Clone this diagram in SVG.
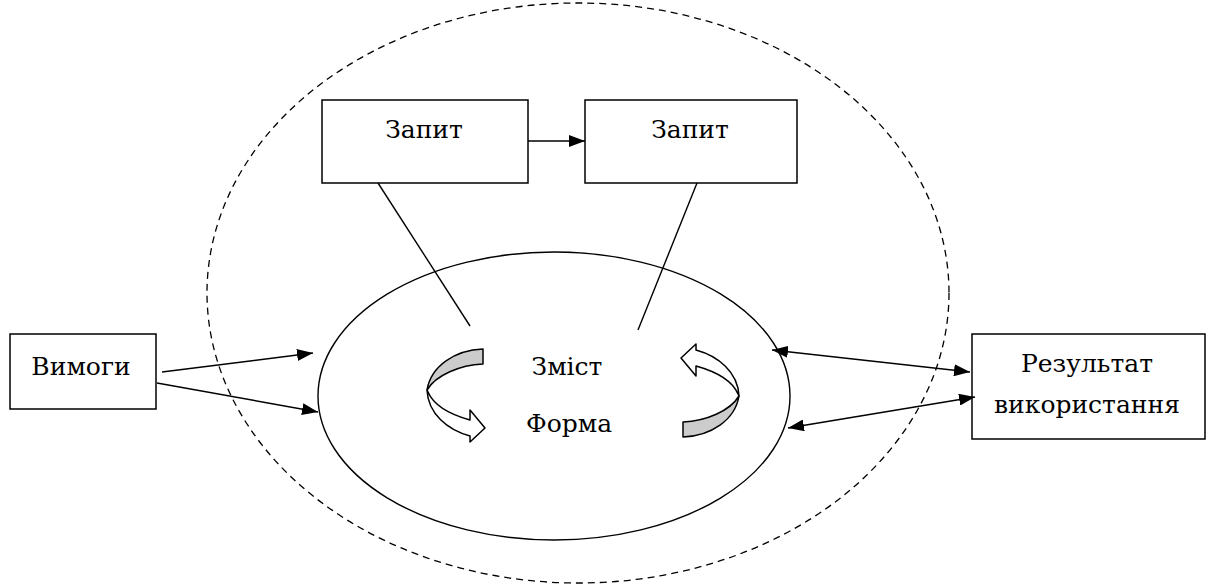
<svg xmlns="http://www.w3.org/2000/svg" xmlns:xlink="http://www.w3.org/1999/xlink" width="1209" height="587" viewBox="0 0 1209 587">
<style>
.box{fill:#fff;stroke:#000;stroke-width:1.5}
.ln{fill:none;stroke:#000;stroke-width:1.4}
text{font-family:'DejaVu Serif',serif;font-size:25px;fill:#000;text-anchor:middle}
.band{fill:#cccccc;stroke:#000;stroke-width:1.5;stroke-linejoin:round}
.wh{fill:#fff;stroke:#000;stroke-width:1.5;stroke-linejoin:round}
</style>
<defs>
<marker id="ah" viewBox="0 0 16 12" refX="16" refY="6" markerWidth="16" markerHeight="12" markerUnits="userSpaceOnUse" orient="auto-start-reverse">
<path d="M0,0 L16,6 L0,12 Z" fill="#000"/>
</marker>
<g id="curl">
<path class="wh" d="M427,390 C428,414 448,430 470,436 L470,442 L485,428 L470,410 L470,420 C452,415 434,406 428,392 Z"/>
<path class="band" d="M483,349 C455,350 431,366 427,390 C436,375 460,365 483,364 Z"/>
</g>
</defs>
<g id="outer">
<ellipse cx="578" cy="293" rx="371" ry="290" fill="none" stroke="#000" stroke-width="1.3" stroke-dasharray="7,5"/>
</g>
<g id="inner">
<ellipse cx="554" cy="396" rx="236" ry="144" fill="#fff" stroke="#000" stroke-width="1.4"/>
<text x="567" y="375">Зміст</text>
<text x="569" y="432">Форма</text>
</g>
<g id="curl-left"><use xlink:href="#curl"/></g>
<g id="curl-right"><use xlink:href="#curl" transform="rotate(180 583 393)"/></g>
<g id="zapyt1">
<rect class="box" x="322" y="100" width="206" height="83"/>
<text x="424" y="138">Запит</text>
</g>
<g id="zapyt2">
<rect class="box" x="585" y="100" width="212" height="83"/>
<text x="690" y="138">Запит</text>
</g>
<g id="vymogy">
<rect class="box" x="10" y="334" width="146" height="75"/>
<text x="81" y="375">Вимоги</text>
</g>
<g id="rezultat">
<rect class="box" x="972" y="334" width="233" height="105"/>
<text x="1087" y="372">Результат</text>
<text x="1087" y="413">використання</text>
</g>
<g id="connectors">
<line class="ln" x1="528" y1="141" x2="585" y2="141" marker-end="url(#ah)"/>
<line class="ln" x1="378" y1="183" x2="470" y2="326"/>
<line class="ln" x1="697" y1="183" x2="638" y2="330"/>
<line class="ln" x1="162" y1="372" x2="313" y2="353" marker-end="url(#ah)"/>
<line class="ln" x1="157" y1="383" x2="318" y2="412" marker-end="url(#ah)"/>
<line class="ln" x1="772" y1="350" x2="970" y2="372" marker-start="url(#ah)" marker-end="url(#ah)"/>
<line class="ln" x1="788" y1="428" x2="975" y2="397" marker-start="url(#ah)" marker-end="url(#ah)"/>
</g>
</svg>
